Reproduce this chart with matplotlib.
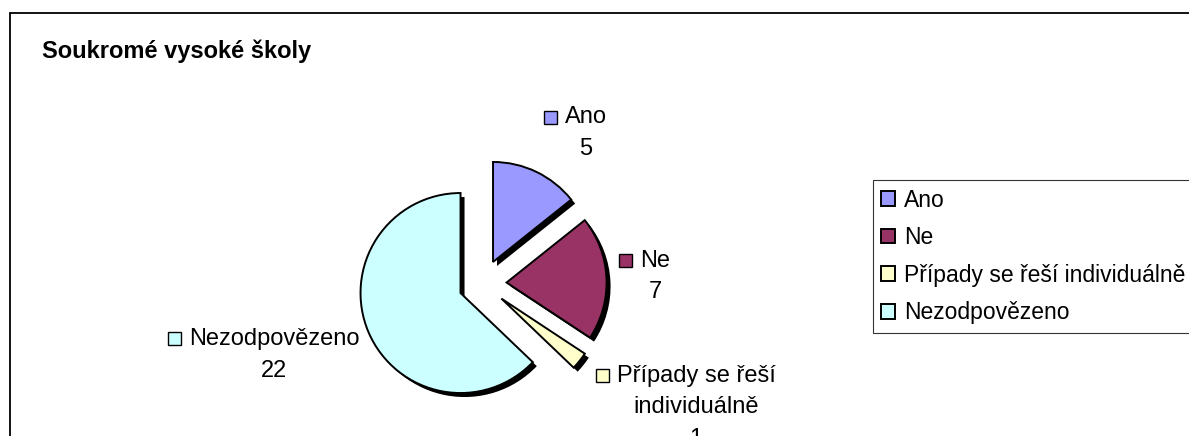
import matplotlib
matplotlib.use("Agg")
import matplotlib.pyplot as plt
import matplotlib.patches as mpatches
import matplotlib.transforms as mtransforms

plt.rcParams['font.family'] = ['Liberation Sans', 'DejaVu Sans']

#######################
# Data
#######################
chart_title = 'Soukromé vysoké školy'
categories = ['Ano', 'Ne', 'Případy se řeší individuálně', 'Nezodpovězeno']
counts = [5, 7, 1, 22]
label_lines = [['Ano'], ['Ne'], ['Případy se řeší', 'individuálně'], ['Nezodpovězeno']]
colors = ['#9999FF', '#993366', '#FFFFCC', '#CCFFFF']

#######################
# Layout (pixels, image coords: y down)
#######################
W, H = 1189, 436
pie_center = (482.6, 283.6)
pie_r = 100
pie_explode = 24
shadow_off = (4, -4)
# label anchor: center x, baseline y of first line
label_pos = [(586, 123.3), (655, 266.7), (696, 381.7), (274, 345)]
line_pitch = 31.7
icon_size = 13
icon_gap = 8


def iy(y):
    return H - y


fig = plt.figure(figsize=(W / 100, H / 100), dpi=100)
ax = fig.add_axes([0, 0, 1, 1])

# shadow pie
cx, cy = pie_center[0], iy(pie_center[1])
shadow, _ = ax.pie(counts, startangle=90, counterclock=False, radius=pie_r,
                   center=(cx, cy), explode=[pie_explode] * len(counts),
                   colors=['black'] * len(counts), wedgeprops=dict(linewidth=0))
for w in shadow:
    w.set_transform(ax.transData + mtransforms.Affine2D().translate(*shadow_off))

# main pie
wedges, _ = ax.pie(counts, startangle=90, counterclock=False, radius=pie_r,
                   center=(cx, cy), explode=[pie_explode] * len(counts),
                   colors=colors, wedgeprops=dict(edgecolor='black', linewidth=1.4))

ax.set_xlim(0, W)
ax.set_ylim(0, H)
ax.set_aspect('equal')
ax.axis('off')

# chart border (continues beyond the crop)
ax.plot([10, 10, W + 20], [-20, iy(13), iy(13)], color='black', lw=1.3,
        solid_joinstyle='miter', clip_on=False)

ax.text(41.7, iy(58), chart_title, fontsize=17, fontweight='bold',
        ha='left', va='baseline')

# data labels
first_lines = []
for lines, val, (lx, ly) in zip(label_lines, counts, label_pos):
    all_lines = lines + [str(val)]
    for k, s in enumerate(all_lines):
        t = ax.text(lx, iy(ly + k * line_pitch), s, fontsize=17,
                    ha='center', va='baseline', clip_on=False)
        if k == 0:
            first_lines.append(t)

fig.canvas.draw()
renderer = fig.canvas.get_renderer()
inv = ax.transData.inverted()
for t, c, (lx, ly) in zip(first_lines, colors, label_pos):
    bb = t.get_window_extent(renderer)
    x0 = inv.transform((bb.x0, bb.y0))[0]
    ax.add_patch(mpatches.Rectangle((x0 - icon_gap - icon_size, iy(ly) - 0.5),
                                    icon_size, icon_size, facecolor=c,
                                    edgecolor='black', linewidth=1.0))

# legend
leg = ax.legend(wedges, categories, loc='upper left',
                bbox_to_anchor=(872.7, iy(180)), bbox_transform=ax.transData,
                fontsize=16.5, frameon=True, fancybox=False, shadow=False,
                edgecolor='black', borderpad=0.38, labelspacing=0.635,
                handlelength=0.6, handleheight=0.6, handletextpad=0.4,
                borderaxespad=0)
leg.get_frame().set_linewidth(0.8)

fig.savefig('out.png', dpi=100)
